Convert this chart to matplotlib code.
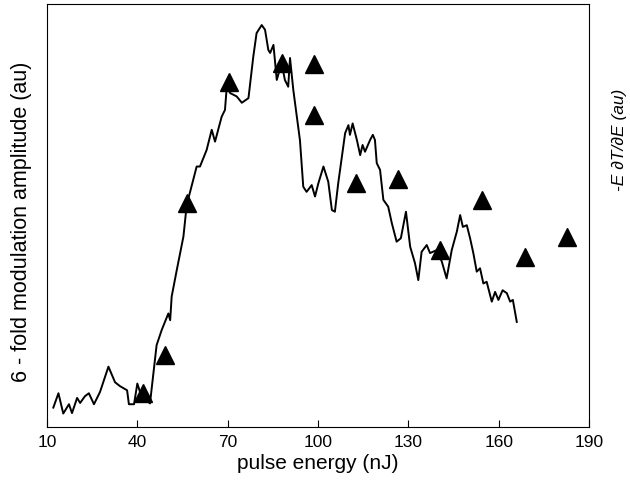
import matplotlib
matplotlib.use('Agg')
import matplotlib.pyplot as plt

plt.rcParams['font.family'] = ['Liberation Sans', 'DejaVu Sans']

# modulation amplitude trace
energy = [12.1, 13.8, 15.4, 17.3, 18.3, 20.0, 21.0, 22.6, 23.9, 25.6, 27.6, 30.4,
          32.6, 34.2, 36.6, 37.2, 38.9, 40.0, 41.2, 44.2, 46.4, 48.1, 50.3, 50.9,
          51.4, 53.1, 55.3, 56.4, 59.7, 60.8, 63.0, 64.7, 65.8, 68.0, 69.1, 69.7,
          70.8, 73.0, 74.7, 76.9, 78.5, 79.6, 81.3, 82.4, 83.5, 84.1, 85.2, 86.3,
          87.9, 89.0, 90.1, 90.7, 91.8, 94.0, 95.1, 96.2, 97.9, 99.0, 100.1, 101.8,
          103.4, 104.6, 105.6, 106.7, 109.0, 110.1, 110.6, 111.5, 112.9, 114.0,
          114.8, 115.6, 117.3, 118.2, 118.9, 119.5, 120.6, 121.7, 123.3, 124.5,
          126.1, 127.5, 129.2, 130.6, 132.2, 133.3, 134.4, 136.1, 137.2, 139.4,
          141.1, 142.7, 144.4, 146.1, 147.2, 148.1, 149.4, 150.5, 151.6, 152.7,
          153.8, 154.9, 156.0, 157.7, 158.8, 159.9, 161.3, 162.7, 163.8, 164.7, 166.0]
amplitude = [4.5, 7.9, 3.1, 5.3, 3.2, 6.8, 5.6, 7.2, 7.9, 5.3, 8.2, 14.2,
             10.5, 9.6, 8.6, 5.3, 5.3, 10.2, 7.5, 5.5, 19.3, 22.9, 26.8, 25.2,
             30.8, 37.1, 45.0, 52.5, 61.6, 61.6, 65.5, 70.3, 67.5, 73.4, 75.0, 80.5,
             79.0, 78.2, 76.7, 77.8, 87.6, 93.2, 95.1, 94.0, 89.2, 88.5, 90.4, 82.1,
             86.1, 82.1, 80.5, 87.3, 79.7, 67.8, 56.8, 55.6, 57.2, 54.5, 57.6, 61.6,
             58.0, 51.3, 50.9, 57.6, 69.5, 71.4, 69.1, 71.8, 67.9, 64.3,
             66.7, 65.1, 67.9, 69.1, 67.9, 62.4, 60.8, 53.7, 52.1, 48.2,
             43.8, 44.6, 50.9, 42.6, 38.7, 34.7, 41.4, 43.0, 41.1, 41.8,
             39.1, 35.1, 41.8, 46.2, 50.1, 47.3, 47.7, 44.6, 41.0, 36.7,
             37.5, 33.9, 34.3, 29.6, 31.9, 30.0, 32.3, 31.6, 29.6, 30.0, 24.8]

# -E dT/dE points
tri_energy = [42.0, 49.2, 56.4, 70.4, 88.1, 98.7, 98.7, 112.6, 126.7, 140.5,
              154.6, 168.7, 182.8]
tri_value = [7.9, 16.9, 52.9, 81.7, 86.1, 85.9, 73.8, 57.8, 58.6, 41.8,
             53.7, 40.1, 45.0]

xticks = [10, 40, 70, 100, 130, 160, 190]

fig = plt.figure(figsize=(6.3, 4.87), dpi=100)
ax = fig.add_axes([0.0746, 0.124, 0.8604, 0.867])

ax.plot(energy, amplitude, color='black', linewidth=1.4)
ax.plot(tri_energy, tri_value, linestyle='none', marker='^', markersize=13,
        color='black')

ax.set_xlim(10, 190)
ax.set_ylim(0, 100)
ax.set_xticks(xticks)
ax.set_yticks([])
ax.tick_params(axis='x', direction='in', length=5, labelsize=12.5, pad=6)
for s in ax.spines.values():
    s.set_linewidth(0.8)

ax.set_xlabel('pulse energy (nJ)', fontsize=15, labelpad=3)
ax.set_ylabel('6 - fold modulation amplitude (au)', fontsize=15.5)
ax.yaxis.set_label_coords(-0.027, 0.485)
fig.text(0.984, 0.713, '-E \u2202T/\u2202E (au)', rotation=90, fontsize=12.5,
         style='italic', ha='center', va='center')

fig.savefig('out.png', dpi=100)
